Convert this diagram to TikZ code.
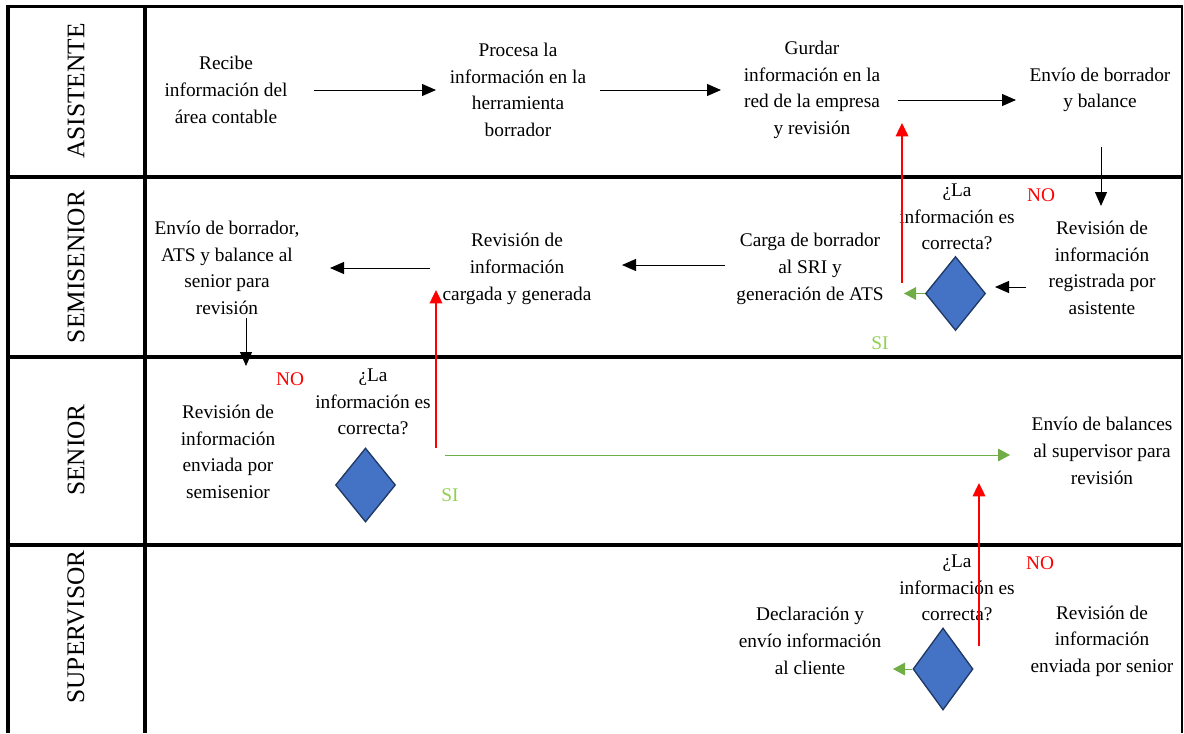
\documentclass[tikz,border=0pt]{standalone}
\usepackage{fontspec}
\setmainfont{Liberation Serif}
\usetikzlibrary{shapes.geometric,arrows.meta}
\definecolor{dfill}{HTML}{4472C4}
\definecolor{dline}{HTML}{1F3864}
\definecolor{okgreen}{HTML}{70AD47}
\definecolor{sigreen}{HTML}{92D050}
\begin{document}
\begin{tikzpicture}[x=0.75pt,y=-0.75pt,
  laneline/.style={line width=3pt},
  lanelabel/.style={rotate=90, inner sep=0pt, font=\fontsize{19}{22}\selectfont},
  txt/.style={align=center, inner sep=0pt, font=\fontsize{14.5}{20}\selectfont},
  redtxt/.style={inner sep=0pt, text=red, font=\fontsize{14.5}{20}\selectfont},
  sitxt/.style={inner sep=0pt, text=sigreen, font=\fontsize{14.5}{20}\selectfont},
  decision/.style={diamond, draw=dline, line width=1pt, fill=dfill, inner sep=0pt,
    minimum width=45pt, minimum height=55.5pt},
  flow/.style={line width=0.75pt, -{Triangle[length=10.5pt,width=9pt]}},
  back/.style={red, line width=1pt, -{Triangle[length=10pt,width=9.5pt]}},
  yes/.style={okgreen, line width=0.75pt, -{Triangle[length=9pt,width=9.5pt]}}
]
\useasboundingbox (0,0) rectangle (1184,733);

% swimlane grid
\draw[line width=2.25pt] (6.5,6) -- (1183,6);
\draw[line width=2.6pt] (8,4.5) -- (8,733);
\draw[line width=2.6pt] (145,4.5) -- (145,733);
\draw[line width=1.4pt] (1182,5) -- (1182,733);
\draw[laneline] (6.5,177) -- (1183,177);
\draw[laneline] (6.5,357) -- (1183,357);
\draw[laneline] (6.5,545) -- (1183,545);

% lane titles
\node[lanelabel] (lAsis) at (76,91) {ASISTENTE};
\node[lanelabel] (lSemi) at (76,267) {SEMISENIOR};
\node[lanelabel] (lSen)  at (76,450) {SENIOR};
\node[lanelabel] (lSup)  at (76,627) {SUPERVISOR};

% ASISTENTE
\node[txt] (recibe)  at (226,90) {Recibe\\información del\\área contable};
\node[txt] (procesa) at (518,90) {Procesa la\\información en la\\herramienta\\borrador};
\node[txt] (guardar) at (812,90) {Gurdar\\información en la\\red de la empresa\\y revisión};
\node[txt] (envio1)  at (1100,90) {Envío de borrador\\y balance};

% SEMISENIOR
\node[txt] (revAsis) at (1102,268) {Revisión de\\información\\registrada por\\asistente};
\node[txt] (q1)      at (957,217) {¿La\\información es\\correcta?};
\node[decision] (d1) at (955.5,293.5) {};
\node[redtxt] (no1)  at (1041,195) {NO};
\node[sitxt] (si1)   at (880,343) {SI};
\node[txt] (carga)   at (810,269) {Carga de borrador\\al SRI y\\generación de ATS};
\node[txt] (revCarga) at (517,269) {Revisión de\\información\\cargada y generada};
\node[txt] (envio2)  at (227,268) {Envío de borrador,\\ATS y balance al\\senior para\\revisión};

% SENIOR
\node[redtxt] (no2)  at (290,379) {NO};
\node[txt] (revSemi) at (228,452) {Revisión de\\información\\enviada por\\semisenior};
\node[txt] (q2)      at (373,402) {¿La\\información es\\correcta?};
\node[decision] (d2) at (365.5,485) {};
\node[sitxt] (si2)   at (450,495) {SI};
\node[txt] (envio3)  at (1102,451) {Envío de balances\\al supervisor para\\revisión};

% SUPERVISOR
\node[redtxt] (no3)  at (1040,563) {NO};
\node[txt] (q3)      at (957,588) {¿La\\información es\\correcta?};
\node[decision, minimum height=61.5pt] (d3) at (943,669) {};
\node[txt] (declara) at (810,641) {Declaración y\\envío información\\al cliente};
\node[txt] (revSen)  at (1102,641) {Revisión de\\información\\enviada por senior};

% connector end points
\coordinate (a1s) at (314,90);   \coordinate (a1e) at (436,90);
\coordinate (a2s) at (600,90);   \coordinate (a2e) at (721,90);
\coordinate (a3s) at (898,100);  \coordinate (a3e) at (1016,100);
\coordinate (a4s) at (1101,147); \coordinate (a4e) at (1101,206);
\coordinate (a5s) at (1026,287); \coordinate (a5e) at (995,287);
\coordinate (a6e) at (904,293.5);
\coordinate (a7s) at (902,283);  \coordinate (a7e) at (902,123);
\coordinate (a8s) at (725,265);  \coordinate (a8e) at (622,265);
\coordinate (a9s) at (430,268);  \coordinate (a9e) at (330,268);
\coordinate (a10s) at (436,448); \coordinate (a10e) at (436,290);
\coordinate (a11s) at (246,318); \coordinate (a11e) at (246,366);
\coordinate (a12s) at (445,455); \coordinate (a12e) at (1010,455);
\coordinate (a13s) at (979,646); \coordinate (a13e) at (979,483);
\coordinate (a14e) at (893,669);

% connectors
\draw[flow] (a1s) -- (a1e);
\draw[flow] (a2s) -- (a2e);
\draw[flow] (a3s) -- (a3e);
\draw[flow] (a4s) -- (a4e);
\draw[flow] (a5s) -- (a5e);
\draw[yes] (d1.west) -- (a6e);
\draw[back] (a7s) -- (a7e);
\draw[flow] (a8s) -- (a8e);
\draw[flow] (a9s) -- (a9e);
\draw[back] (a10s) -- (a10e);
\draw[flow] (a11s) -- (a11e);
\draw[yes] (a12s) -- (a12e);
\draw[back] (a13s) -- (a13e);
\draw[yes] (d3.west) -- (a14e);
\end{tikzpicture}
\end{document}
